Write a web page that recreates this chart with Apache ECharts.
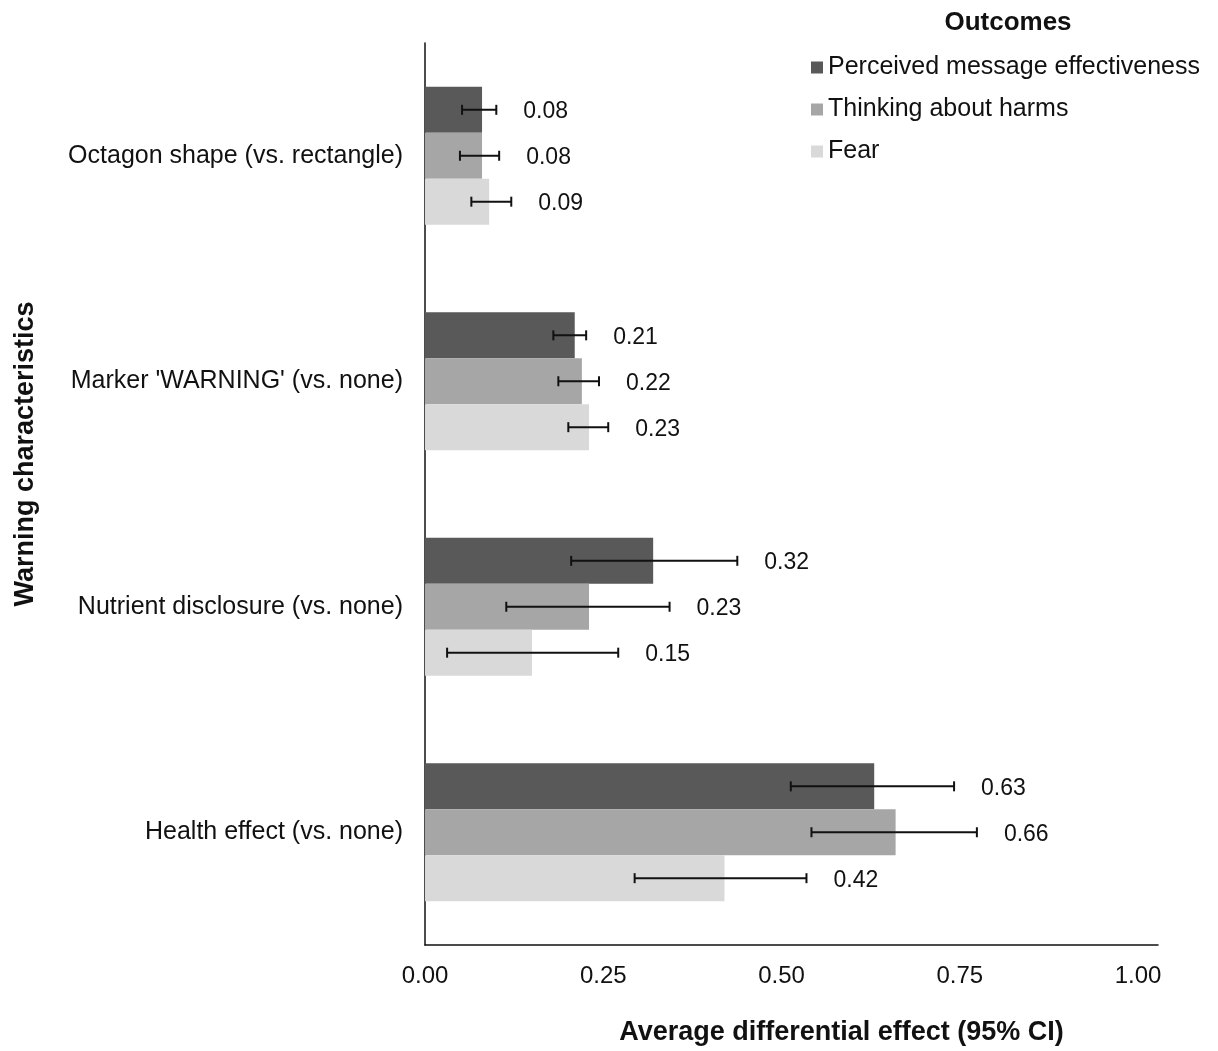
<!DOCTYPE html>
<html><head><meta charset="utf-8">
<script src="https://cdn.jsdelivr.net/npm/echarts@6/dist/echarts.min.js"></script>
<style>html,body{margin:0;padding:0;background:#fff}#c{width:1218px;height:1051px}</style>
</head><body><div id="c"></div>
<script>
const categories = ["Octagon shape (vs. rectangle)", "Marker 'WARNING' (vs. none)", "Nutrient disclosure (vs. none)", "Health effect (vs. none)"];
const seriesNames = ["Perceived message effectiveness", "Thinking about harms", "Fear"];
const pmeValues = [0.08, 0.21, 0.32, 0.63];
const pmeLow = [0.052, 0.180, 0.205, 0.513];
const pmeHigh = [0.100, 0.226, 0.438, 0.742];
const harmsValues = [0.08, 0.22, 0.23, 0.66];
const harmsLow = [0.049, 0.187, 0.114, 0.542];
const harmsHigh = [0.104, 0.244, 0.343, 0.774];
const fearValues = [0.09, 0.23, 0.15, 0.42];
const fearLow = [0.065, 0.201, 0.031, 0.294];
const fearHigh = [0.121, 0.257, 0.271, 0.535];
const xTicks = [0, 0.25, 0.5, 0.75, 1.0];

const colors = ['#595959', '#a6a6a6', '#d9d9d9'];
const values = [pmeValues, harmsValues, fearValues];
const lows = [pmeLow, harmsLow, fearLow];
const highs = [pmeHigh, harmsHigh, fearHigh];
const GAP = 0.389;
const FONT = '"Liberation Sans", Arial, Helvetica, sans-serif';

const chart = echarts.init(document.getElementById('c'));
const series = [];
seriesNames.forEach((n, i) => {
  series.push({
    name: n, type: 'bar', data: values[i], barGap: '0%', barCategoryGap: (GAP * 100) + '%',
    itemStyle: { color: colors[i] }, silent: true
  });
});
seriesNames.forEach((n, i) => {
  series.push({
    type: 'custom', silent: true, z: 5,
    data: categories.map((c, k) => [k, lows[i][k], highs[i][k], values[i][k]]),
    encode: { x: [1, 2], y: 0 },
    renderItem: function (params, api) {
      const k = api.value(0);
      const lo = api.coord([api.value(1), k]);
      const hi = api.coord([api.value(2), k]);
      const band = api.size([0, 1])[1];
      const bw = band * (1 - GAP) / 3;
      const y = lo[1] + (i - 1) * bw;
      const cap = 5;
      const st = { stroke: '#111', lineWidth: 2 };
      return {
        type: 'group', children: [
          { type: 'line', shape: { x1: lo[0], y1: y, x2: hi[0], y2: y }, style: st },
          { type: 'line', shape: { x1: lo[0], y1: y - cap, x2: lo[0], y2: y + cap }, style: st },
          { type: 'line', shape: { x1: hi[0], y1: y - cap, x2: hi[0], y2: y + cap }, style: st },
          { type: 'text', style: { x: hi[0] + 27, y: y + 2, text: api.value(3).toFixed(2), fill: '#111', font: '23px ' + FONT, textAlign: 'left', textVerticalAlign: 'middle' } }
        ]
      };
    }
  });
});

chart.setOption({
  animation: false,
  title: { text: 'Outcomes', left: 1003, top: 5, textAlign: 'center', textStyle: { fontFamily: FONT, fontSize: 26, fontWeight: 'bold', color: '#111' } },
  legend: {
    data: seriesNames, orient: 'vertical', left: 806, top: 50, itemWidth: 12, itemHeight: 12, itemGap: 17,
    icon: 'rect', selectedMode: false,
    textStyle: { fontFamily: FONT, fontSize: 25, color: '#111' }
  },
  grid: { left: 425, right: 60, top: 43, bottom: 103, containLabel: false },
  xAxis: {
    type: 'value', min: 0, max: 1.028, interval: 0.25,
    axisLine: { show: true, lineStyle: { color: '#111', width: 1.5 } },
    axisTick: { show: false }, splitLine: { show: false },
    axisLabel: { showMaxLabel: false, margin: 19, fontFamily: FONT, fontSize: 24, color: '#111', formatter: v => (v > 1.001 ? '' : v.toFixed(2)) },
    name: 'Average differential effect (95% CI)', nameLocation: 'middle', nameGap: 74,
    nameTextStyle: { fontFamily: FONT, fontSize: 27, fontWeight: 'bold', color: '#111', padding: [0, 0, 0, 100] }
  },
  yAxis: {
    type: 'category', data: categories, inverse: true,
    axisLine: { show: true, lineStyle: { color: '#111', width: 1.5 } },
    axisTick: { show: false },
    axisLabel: { margin: 22, fontFamily: FONT, fontSize: 25, color: '#111' },
    name: 'Warning characteristics', nameLocation: 'middle', nameGap: 386, nameRotate: 90,
    nameTextStyle: { fontFamily: FONT, fontSize: 27, fontWeight: 'bold', color: '#111', padding: [0, 0, 0, 80] }
  },
  series: series
});
</script></body></html>
